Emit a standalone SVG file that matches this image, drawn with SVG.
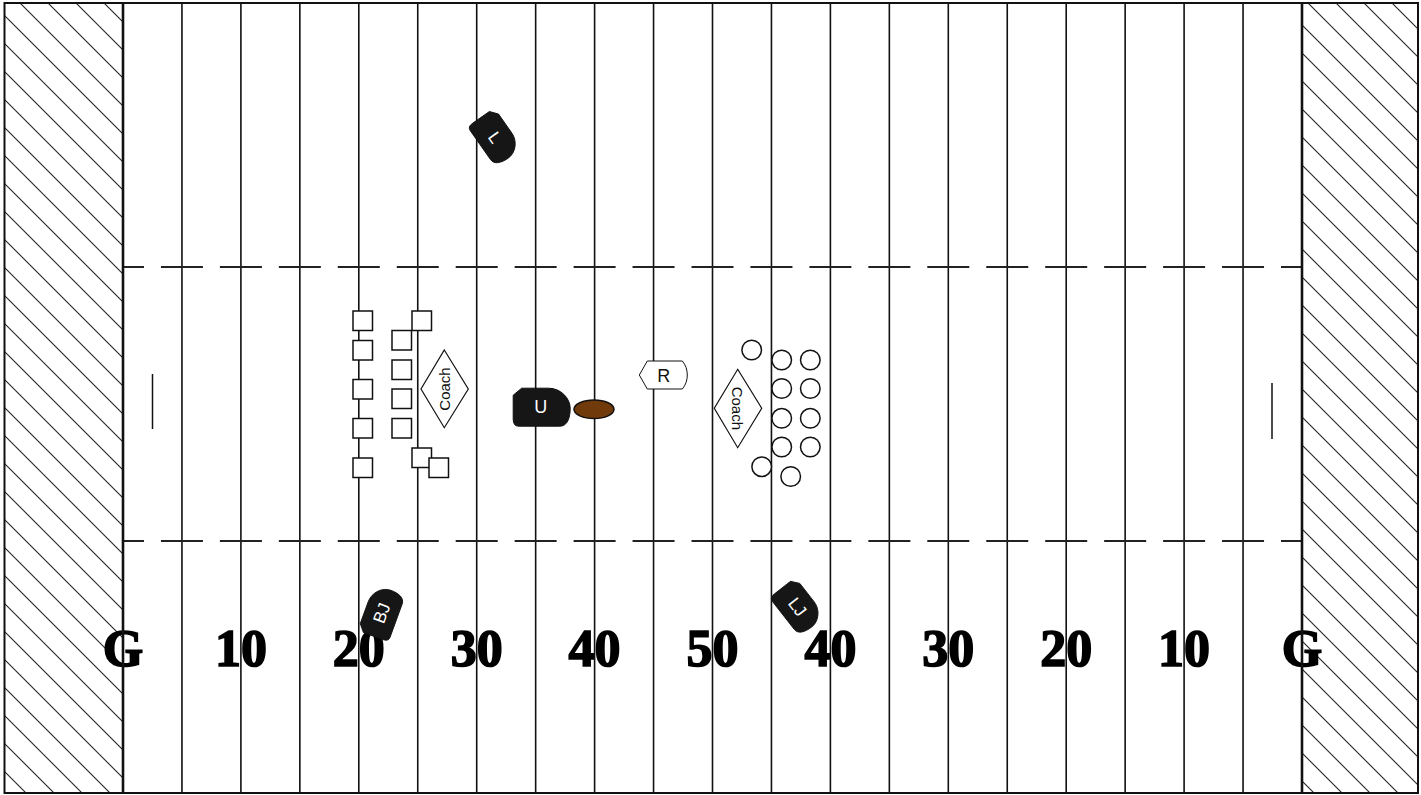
<svg xmlns="http://www.w3.org/2000/svg" width="1421" height="795" viewBox="0 0 1421 795">
<style>
.yl{stroke:#111;stroke-width:1.6;fill:none}
.ez{stroke:#111;stroke-width:2.6;fill:none}
.dash{stroke:#222;stroke-width:2;fill:none;stroke-dasharray:42 16.95;stroke-dashoffset:21}
.hash{stroke:#111;stroke-width:1.5}
.num{font-family:"Liberation Serif",serif;font-weight:bold;font-size:52px;fill:#000;stroke:#000;stroke-width:1.6;text-anchor:middle}
.sq{fill:#fff;stroke:#111;stroke-width:1.5}
.ci{fill:#fff;stroke:#111;stroke-width:1.5}
.coach{fill:#fff;stroke:#111;stroke-width:1.2}
.ctext{font-family:"Liberation Sans",Arial,sans-serif;font-size:15px;fill:#111;text-anchor:middle}
.off{fill:#161616;stroke:#111;stroke-width:1}
.offw{fill:#fff;stroke:#111;stroke-width:1}
.otext{font-family:"Liberation Sans",Arial,sans-serif;font-size:18px;fill:#fff;text-anchor:middle}
</style>
<defs>
<pattern id="hatch" patternUnits="userSpaceOnUse" x="17" y="0" width="28" height="28">
<path d="M-7,21 L7,35 M0,0 L28,28 M21,-7 L35,7" stroke="#222" stroke-width="1.1" fill="none"/>
</pattern>
<path id="offShape" d="M-20,-19 L7,-19 C19,-19 28.5,-9 28.5,1 C28.5,11 25.5,19 18,19 L-23,19 Q-28.5,19 -28.5,12 L-28.5,-12 Z"/>
</defs>

<rect x="0" y="0" width="1421" height="795" fill="#fff"/>

<g id="endzones">
<rect x="4" y="3" width="119" height="790" fill="url(#hatch)"/>
<rect x="1302" y="3" width="116" height="790" fill="url(#hatch)"/>
</g>

<g id="numbers">
<text class="num" x="123" y="666">G</text>
<text class="num" x="240.9" y="666">10</text>
<text class="num" x="358.8" y="666">20</text>
<text class="num" x="476.7" y="666">30</text>
<text class="num" x="594.6" y="666">40</text>
<text class="num" x="712.5" y="666">50</text>
<text class="num" x="830.4" y="666">40</text>
<text class="num" x="948.3" y="666">30</text>
<text class="num" x="1066.2" y="666">20</text>
<text class="num" x="1184.1" y="666">10</text>
<text class="num" x="1302" y="666">G</text>
</g>

<g id="field-lines">
<path class="yl" d="M181.95,3V793 M240.9,3V793 M299.85,3V793 M358.8,3V793 M417.75,3V793 M476.7,3V793 M535.65,3V793 M594.6,3V793 M653.55,3V793 M712.5,3V793 M771.45,3V793 M830.4,3V793 M889.35,3V793 M948.3,3V793 M1007.25,3V793 M1066.2,3V793 M1125.15,3V793 M1184.1,3V793 M1243.05,3V793"/>
<path class="dash" d="M123,267H1302 M123,541H1302"/>
<path class="hash" d="M152.5,374V429 M1272,383V439"/>
<path class="ez" d="M123,3V793 M1302,3V793"/>
<rect x="4.5" y="3" width="1413.5" height="790" fill="none" stroke="#111" stroke-width="2"/>
</g>

<g id="team-left">
<rect class="sq" x="353" y="311" width="19.5" height="19.5"/>
<rect class="sq" x="353" y="340.5" width="19.5" height="19.5"/>
<rect class="sq" x="353" y="379.5" width="19.5" height="19.5"/>
<rect class="sq" x="353" y="418.5" width="19.5" height="19.5"/>
<rect class="sq" x="353" y="458" width="19.5" height="19.5"/>
<rect class="sq" x="412" y="311" width="19.5" height="19.5"/>
<rect class="sq" x="392" y="330.5" width="19.5" height="19.5"/>
<rect class="sq" x="392" y="360" width="19.5" height="19.5"/>
<rect class="sq" x="392" y="389" width="19.5" height="19.5"/>
<rect class="sq" x="392" y="418.5" width="19.5" height="19.5"/>
<rect class="sq" x="412" y="448" width="19.5" height="19.5"/>
<rect class="sq" x="429" y="458" width="19.5" height="19.5"/>
</g>

<g id="coach-left">
<polygon class="coach" points="444.3,350 468.3,389 444.3,427.7 421,389"/>
<text class="ctext" transform="translate(444.3,389) rotate(-90)" x="0" y="5.3">Coach</text>
</g>

<g id="team-right">
<circle class="ci" cx="751.7" cy="350" r="9.8"/>
<circle class="ci" cx="781.7" cy="360" r="9.8"/>
<circle class="ci" cx="810.3" cy="360" r="9.8"/>
<circle class="ci" cx="781.7" cy="388.5" r="9.8"/>
<circle class="ci" cx="810.3" cy="388.5" r="9.8"/>
<circle class="ci" cx="781.7" cy="418.3" r="9.8"/>
<circle class="ci" cx="810.3" cy="418.3" r="9.8"/>
<circle class="ci" cx="781.7" cy="447" r="9.8"/>
<circle class="ci" cx="810.3" cy="447" r="9.8"/>
<circle class="ci" cx="761.7" cy="466.7" r="9.8"/>
<circle class="ci" cx="790.7" cy="476.5" r="9.8"/>
</g>

<g id="coach-right">
<polygon class="coach" points="737.7,369.3 761.7,408.3 737.7,447.7 714.3,408.3"/>
<text class="ctext" transform="translate(737.7,408.3) rotate(90)" x="0" y="5.3">Coach</text>
</g>

<g id="ball">
<ellipse cx="594" cy="409.3" rx="20" ry="9.3" fill="#703a0a" stroke="#111" stroke-width="1.5"/>
</g>

<g id="official-U" transform="translate(541.7,407.2)">
<use href="#offShape" class="off"/>
<text class="otext" x="-1" y="6">U</text>
</g>

<g id="official-R" transform="translate(663.3,375)">
<path class="offw" d="M-16,-14 L19,-14 C22.5,-10 24,-5 24,0 C24,5 22.5,10 19,14 L-16,14 L-24,0 Z"/>
<text class="otext" style="fill:#111" x="0.5" y="6.5">R</text>
</g>

<g id="official-L" transform="translate(495,137.5) rotate(55) scale(0.86)">
<use href="#offShape" class="off"/>
<text class="otext" style="font-size:20px" x="0" y="7">L</text>
</g>

<g id="official-BJ" transform="translate(381.5,613) rotate(-70) scale(0.86)">
<use href="#offShape" class="off"/>
<text class="otext" style="font-size:20px" x="0" y="7">BJ</text>
</g>

<g id="official-LJ" transform="translate(797.5,607) rotate(52) scale(0.86)">
<use href="#offShape" class="off"/>
<text class="otext" style="font-size:20px" x="0" y="7">LJ</text>
</g>
</svg>
